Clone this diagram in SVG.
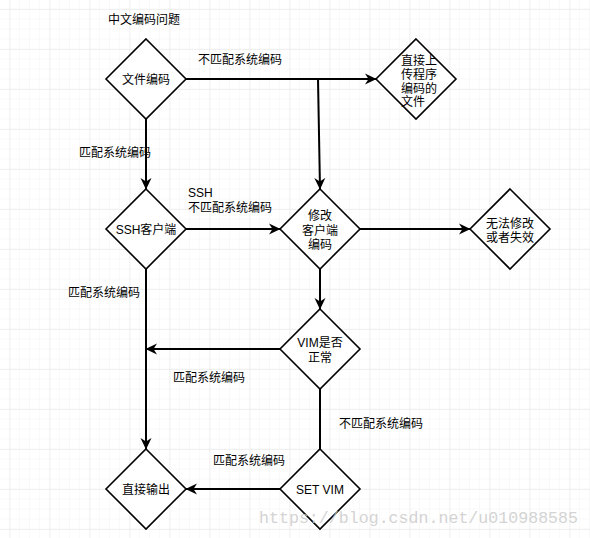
<svg xmlns="http://www.w3.org/2000/svg" width="590" height="538" viewBox="0 0 590 538">
<defs>
<pattern id="minor" width="10" height="10" patternUnits="userSpaceOnUse" x="0" y="-0.5">
<path d="M10 0 V10 M0 10 H10" fill="none" stroke="#f3f3f3" stroke-width="1"/>
</pattern>
<pattern id="major" width="40" height="40" patternUnits="userSpaceOnUse" x="-29.5" y="-30">
<path d="M40 0 V40 M0 40 H40" fill="none" stroke="#e4e4e4" stroke-width="1"/>
</pattern>
<marker id="arr" viewBox="0 0 12 12" refX="11" refY="6" markerWidth="12" markerHeight="12" markerUnits="userSpaceOnUse" orient="auto">
<path d="M0 0.5 L11.5 6 L0 11.5 L3.5 6 Z" fill="#000"/>
</marker>
</defs>
<style>
.d{fill:#fff;stroke:#000;stroke-width:1.6}
.e{fill:none;stroke:#000;stroke-width:2}
.t{font-family:"Liberation Sans","Noto Sans CJK SC",sans-serif;font-size:12px;fill:#000}
.c{text-anchor:middle}
</style>
<rect width="590" height="538" fill="#fff"/>
<rect width="590" height="538" fill="url(#minor)"/>
<rect width="590" height="538" fill="url(#major)"/>

<text class="t" x="108" y="24">中文编码问题</text>

<g id="connectors">
<path class="e" d="M186 79 H376" marker-end="url(#arr)"/>
<path class="e" d="M318 79 L320 189" marker-end="url(#arr)"/>
<path class="e" d="M146 119 V189" marker-end="url(#arr)"/>
<path class="e" d="M186 229 H280" marker-end="url(#arr)"/>
<path class="e" d="M360 229 H470" marker-end="url(#arr)"/>
<path class="e" d="M320 269 V309" marker-end="url(#arr)"/>
<path class="e" d="M146 268 V449" marker-end="url(#arr)"/>
<path class="e" d="M280 349 H146" marker-end="url(#arr)"/>
<path class="e" d="M320 388 V449"/>
<path class="e" d="M280 489 H186" marker-end="url(#arr)"/>
<text class="t" x="198" y="64">不匹配系统编码</text>
<text class="t" x="79" y="157">匹配系统编码</text>
<text class="t" x="188" y="197">SSH</text>
<text class="t" x="188" y="212">不匹配系统编码</text>
<text class="t" x="68" y="297">匹配系统编码</text>
<text class="t" x="173" y="382">匹配系统编码</text>
<text class="t" x="339" y="428">不匹配系统编码</text>
<text class="t" x="213" y="465">匹配系统编码</text>
</g>

<g id="n1">
<path class="d" d="M146 39 L186 79 L146 119 L106 79 Z"/>
<text class="t c" x="146" y="84">文件编码</text>
</g>
<g id="n2">
<path class="d" d="M416 39 L456 79 L416 119 L376 79 Z"/>
<text class="t" x="401" y="65">直接上</text>
<text class="t" x="401" y="79">传程序</text>
<text class="t" x="401" y="93">编码的</text>
<text class="t" x="401" y="106">文件</text>
</g>
<g id="n3">
<path class="d" d="M146 189 L186 229 L146 269 L106 229 Z"/>
<text class="t c" x="146" y="234">SSH客户端</text>
</g>
<g id="n4">
<path class="d" d="M320 189 L360 229 L320 269 L280 229 Z"/>
<text class="t c" x="320" y="220">修改</text>
<text class="t c" x="320" y="235">客户端</text>
<text class="t c" x="320" y="249">编码</text>
</g>
<g id="n5">
<path class="d" d="M510 189 L550 229 L510 269 L470 229 Z"/>
<text class="t c" x="510" y="228">无法修改</text>
<text class="t c" x="510" y="242">或者失效</text>
</g>
<g id="n6">
<path class="d" d="M320 309 L360 349 L320 389 L280 349 Z"/>
<text class="t c" x="320" y="347">VIM是否</text>
<text class="t c" x="320" y="362">正常</text>
</g>
<g id="n7">
<path class="d" d="M146 449 L186 489 L146 529 L106 489 Z"/>
<text class="t c" x="146" y="494">直接输出</text>
</g>
<g id="n8">
<path class="d" d="M320 449 L360 489 L320 529 L280 489 Z"/>
<text class="t c" x="320" y="494">SET VIM</text>
</g>

<text x="259" y="523" font-family="Liberation Mono, monospace" font-size="17" fill="#c8c8c8" fill-opacity="0.8" textLength="319" lengthAdjust="spacingAndGlyphs">https://blog.csdn.net/u010988585</text>
</svg>
